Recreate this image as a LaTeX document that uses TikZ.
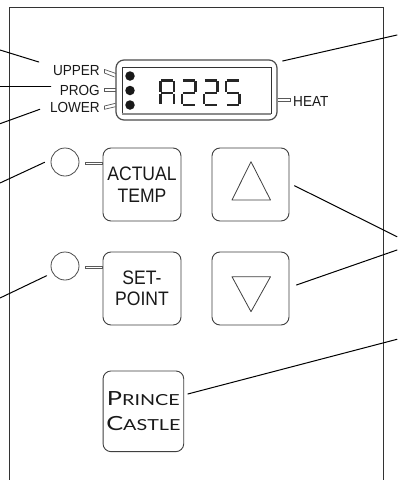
\documentclass[tikz,border=0pt]{standalone}
\usepackage{fontspec}
\setmainfont{Liberation Sans}
\newfontfamily\narrowfont[FakeStretch=0.9]{Liberation Sans}
\newfontfamily\tagfont[FakeStretch=0.93]{Liberation Sans}
\newfontfamily\logofont[FakeStretch=1.3]{Lato}
\tikzset{
  x=1pt,y=-1pt,
  panelline/.style={line width=1pt,draw=black!80},
  leader/.style={line width=1pt,draw=black,line cap=round},
  keybox/.style={draw=black!75,line width=0.9pt,rounded corners=8pt,minimum width=78pt,minimum height=73pt,align=center,inner sep=0pt,font=\narrowfont\fontsize{19.5}{21.5}\selectfont,text=black!90},
  lamp/.style={circle,draw=black!70,line width=0.8pt,minimum size=28pt,inner sep=0pt},
  tag/.style={inner sep=0pt,anchor=east,font=\tagfont\fontsize{14.6}{15}\selectfont,text=black!90},
  tick/.style={draw=black!65,line width=0.7pt,line join=miter},
  dot/.style={circle,fill=black!90,minimum size=9.5pt,inner sep=0pt},
  sign/.style={draw=black!75,line width=0.8pt,line join=round},
  seg/.style={line width=2.6pt,draw=black!85,line cap=butt},
}
\newcommand{\segT}{\draw[seg] (0.8,0) -- (12.7,0);}
\newcommand{\segM}{\draw[seg] (0.8,12.3) -- (12.7,12.3);}
\newcommand{\segB}{\draw[seg] (0.8,24.5) -- (12.7,24.5);}
\newcommand{\segUL}{\draw[seg] (0,0.8) -- (0,11.5);}
\newcommand{\segUR}{\draw[seg] (13.5,0.8) -- (13.5,11.5);}
\newcommand{\segLL}{\draw[seg] (0,13.1) -- (0,23.7);}
\newcommand{\segLR}{\draw[seg] (13.5,13.1) -- (13.5,23.7);}
\newcommand{\bigL}{\fontsize{19.5}{25}\selectfont}
\newcommand{\smallL}{\fontsize{15.2}{25}\selectfont}
\tikzset{
  digitA/.pic={\segT\segM\segUL\segUR\segLL\segLR},
  digitTwo/.pic={\segT\segUR\segM\segLL\segB},
  digitFive/.pic={\segT\segUL\segM\segLR\segB},
}
\begin{document}
\begin{tikzpicture}
\useasboundingbox (0,0) rectangle (397,480);
\fill[white] (0,0) rectangle (397,480);
% panel
\draw[panelline] (9.5,480) -- (9.5,7.5) -- (383,7.5) -- (383,480);
% display
\node[draw=black!70,line width=1.2pt,rounded corners=8pt,minimum width=161pt,minimum height=60pt,inner sep=0pt] (display) at (196.5,90) {};
\node[draw=black!80,line width=0.9pt,minimum width=149pt,minimum height=46pt,inner sep=0pt] (window) at (196.5,90) {};
\draw[line width=1.6pt,draw=black!45] ([yshift=-0.8pt]window.south west) -- ([yshift=-0.8pt]window.south east);
\node[dot] (d1) at (130,76) {};
\node[dot] (d2) at (130,90.5) {};
\node[dot] (d3) at (130,105) {};
\pic at (160.5,80.5) {digitA};
\pic at (182,80.5) {digitTwo};
\pic at (204,80.5) {digitTwo};
\pic at (226,80.5) {digitFive};
% tags
\node[tag] (upper) at (100,71) {UPPER};
\node[tag] (prog) at (100,90) {PROG};
\node[tag] (lower) at (100,107.5) {LOWER};
\node[tag,anchor=west] (heat) at (293,101) {HEAT};
\draw[tick] (116,73.5) -- (104.5,69.5) -- (104.5,73) -- (114.5,77);
\draw[tick] (116,88.3) -- (104.5,88.3) -- (104.5,91.7) -- (116,91.7);
\draw[tick] (115.5,103.3) -- (104.5,106) -- (104.5,109.3) -- (115.5,106.7);
\draw[tick] (277.5,98.3) -- (290,98.3) -- (290,101.7) -- (277.5,101.7);
% buttons
\node[keybox] (actual) at (142,184.5) {ACTUAL\\TEMP};
\node[keybox] (setpoint) at (142,288.5) {SET-\\POINT};
\node[keybox,minimum width=77pt] (upkey) at (250.5,184.5) {};
\node[keybox,minimum width=77pt] (downkey) at (250.5,288.5) {};
\node[keybox,minimum width=80.7pt,minimum height=80.7pt,font=\logofont\smallL,text=black!90] (prince) at (143.4,411.3)
  {{\bigL P}{\smallL RINCE}\\{\bigL C}{\smallL ASTLE}};
\draw[sign] (251,161.7) -- (232,200) -- (270.5,200) -- cycle;
\draw[sign] (232,276.7) -- (270.5,276.7) -- (251,311.7) -- cycle;
% lamps
\node[lamp] (lampa) at (65,162) {};
\node[lamp] (lampb) at (65,266) {};
\draw[tick] (85,162) rectangle (actual.west |- 0,164.5);
\draw[tick] (85,266.5) rectangle (setpoint.west |- 0,268.7);
% free ends of leaders
\coordinate (l1) at (0,50);
\coordinate (l2) at (0,86.7);
\coordinate (l3) at (0,123.7);
\coordinate (l4) at (0,183);
\coordinate (l5) at (0,298);
\coordinate (r1) at (397,35);
\coordinate (r2) at (397,236.7);
\coordinate (r3) at (397,250);
\coordinate (r4) at (397,339.3);
% leaders
\draw[leader] (l1) -- ([shift={(-14,-9)}]upper.west);
\draw[leader,line width=1.4pt] (l2) -- ([shift={(-9,-3.3)}]prog.west);
\draw[leader] (l3) -- ([shift={(-10,1.8)}]lower.west);
\draw[leader] (l4) -- ([shift={(-6,0.3)}]lampa.west);
\draw[leader] (l5) -- ([shift={(-4,9.7)}]lampb.west);
\draw[leader] (r1) -- ([shift={(5,-29)}]display.east);
\draw[leader] (r2) -- ([shift={(5,1.2)}]upkey.east);
\draw[leader] (r3) -- ([shift={(7,-3.5)}]downkey.east);
\draw[leader] (r4) -- ([shift={(3.6,-17.3)}]prince.east);
\end{tikzpicture}
\end{document}
